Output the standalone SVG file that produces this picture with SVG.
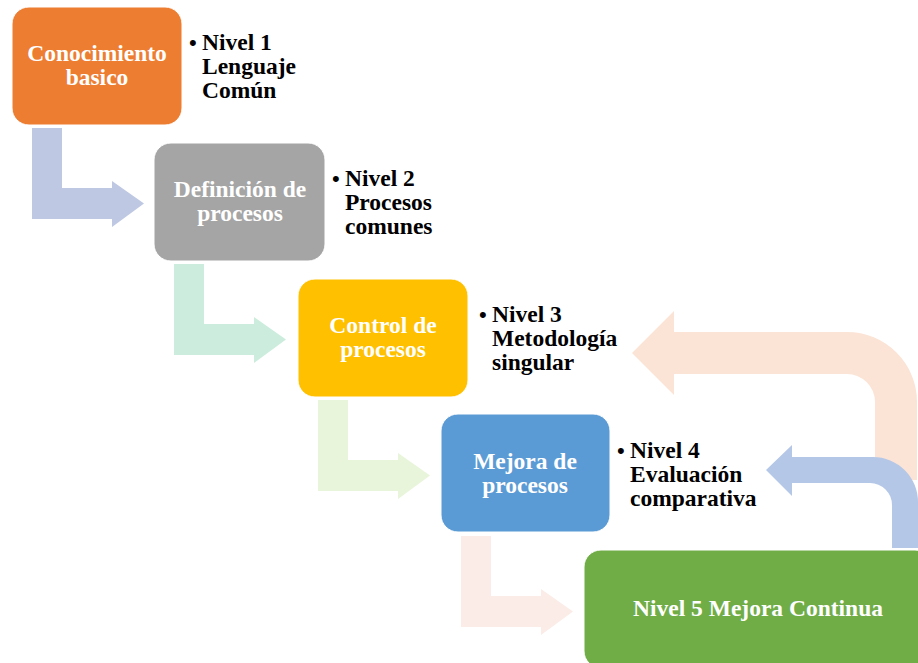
<svg xmlns="http://www.w3.org/2000/svg" width="918" height="663" viewBox="0 0 918 663">
  <style>
    .box { stroke: #ffffff; stroke-width: 1; }
    .inner { font-family: "Liberation Serif", "Times New Roman", serif; font-weight: bold; font-size: 23.5px; fill: #ffffff; text-anchor: middle; }
    .note { font-family: "Liberation Serif", "Times New Roman", serif; font-weight: bold; font-size: 23.5px; fill: #000000; }
    .dot { font-family: "Liberation Sans", Arial, sans-serif; font-size: 22px; fill: #000000; }
  </style>
  <defs>
    <!-- bent step arrow: down, then right into the next box -->
    <path id="step" d="M0,0 H30 V60 H80 V53 L112,75.5 L80,99 V91 H0 Z"/>
  </defs>

  <!-- connectors -->
  <g id="connectors">
    <use href="#step" x="32" y="128" fill="#BEC8E3"/>
    <use href="#step" x="174" y="264" fill="#CCEDDE"/>
    <use href="#step" x="318" y="400" fill="#E8F5DA"/>
    <use href="#step" x="461" y="536" fill="#FBECE7"/>
    <!-- feedback arrows from level 5 back to levels 3 and 4 -->
    <path id="back-3" fill="#FBE4D6" d="M632,353 L674,311 V332 H847 A70,70 0 0 1 917,402 V480 H875 V402 A28,28 0 0 0 847,374 H674 V395 Z"/>
    <path id="back-4" fill="#B4C7E7" d="M766,470 L792,445 V457 H873 A45,45 0 0 1 918,502 V548 H892 V505 A22,22 0 0 0 870,483 H792 V496 Z"/>
  </g>

  <g id="n1">
    <rect class="box" x="12" y="7" width="170" height="118" rx="17" fill="#ED7D31"/>
    <text class="inner" x="97" y="61">Conocimiento</text>
    <text class="inner" x="97" y="85">basico</text>
    <text class="dot" x="189" y="50">•</text>
    <text class="note" x="202" y="50">Nivel 1</text>
    <text class="note" x="202" y="74">Lenguaje</text>
    <text class="note" x="202" y="98">Común</text>
  </g>

  <g id="n2">
    <rect class="box" x="154" y="143" width="171" height="118" rx="17" fill="#A5A5A5"/>
    <text class="inner" x="240" y="197">Definición de</text>
    <text class="inner" x="240" y="221">procesos</text>
    <text class="dot" x="332" y="186">•</text>
    <text class="note" x="345" y="186">Nivel 2</text>
    <text class="note" x="345" y="210">Procesos</text>
    <text class="note" x="345" y="234">comunes</text>
  </g>

  <g id="n3">
    <rect class="box" x="298" y="279" width="170" height="118" rx="17" fill="#FFC000"/>
    <text class="inner" x="383" y="333">Control de</text>
    <text class="inner" x="383" y="357">procesos</text>
    <text class="dot" x="479" y="322">•</text>
    <text class="note" x="492" y="322">Nivel 3</text>
    <text class="note" x="492" y="346">Metodología</text>
    <text class="note" x="492" y="370">singular</text>
  </g>

  <g id="n4">
    <rect class="box" x="441" y="414" width="169" height="118" rx="17" fill="#5B9BD5"/>
    <text class="inner" x="525" y="469">Mejora de</text>
    <text class="inner" x="525" y="493">procesos</text>
    <text class="dot" x="617" y="458">•</text>
    <text class="note" x="630" y="458">Nivel 4</text>
    <text class="note" x="630" y="482">Evaluación</text>
    <text class="note" x="630" y="506">comparativa</text>
  </g>

  <g id="n5">
    <rect class="box" x="584" y="550" width="348" height="118" rx="17" fill="#70AD47"/>
    <text class="inner" x="758" y="616">Nivel 5 Mejora Continua</text>
  </g>
</svg>
